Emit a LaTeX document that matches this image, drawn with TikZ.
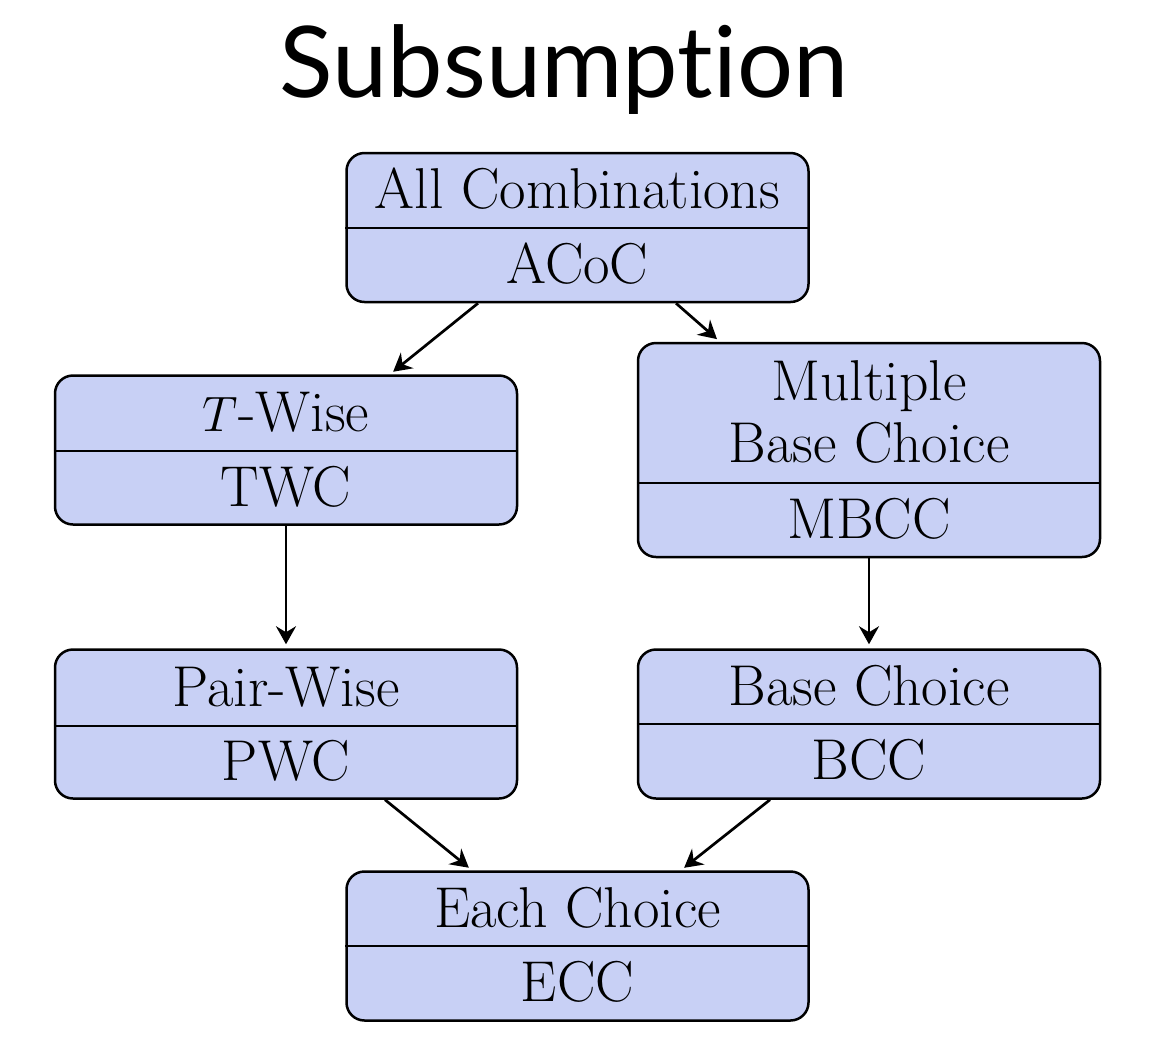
\documentclass[tikz,border=0pt]{standalone}
\usepackage{fontspec}
\newfontfamily\titlefont[Ligatures=NoCommon]{Lato}
\usetikzlibrary{calc,arrows.meta}
\definecolor{boxfill}{RGB}{200,208,245}
\begin{document}
\begin{tikzpicture}[x=0.5pt,y=-0.5pt,
  box/.style={draw, line width=1.25pt, rounded corners=9pt, fill=boxfill, minimum width=231pt, inner sep=0pt},
  lbl/.style={anchor=base, inner sep=0pt, font=\fontsize{28.8}{34}\selectfont},
  divider/.style={line width=1.25pt},
  arr/.style={-{Stealth[length=9pt,width=10pt,inset=3pt]}, line width=1.35pt, shorten >=2pt}]
\useasboundingbox (0,0) rectangle (1158,1046);
\node[anchor=base, inner sep=0pt, font=\titlefont\fontsize{49.5}{58}\selectfont] (title) at (564,97) {Subsumption};
% boxes
\node[box, minimum height=74.5pt] (acoc) at (577.5,227.5) {};
\node[box, minimum height=74.5pt] (twise) at (286,450) {};
\node[box, minimum height=107pt] (mbcc) at (869,450) {};
\node[box, minimum height=74.5pt] (pwise) at (286,724) {};
\node[box, minimum height=74.5pt] (bcc) at (869,724) {};
\node[box, minimum height=74.5pt] (ecc) at (577.5,946) {};
% dividers
\draw[divider] (acoc.west |- 0,228) -- (acoc.east |- 0,228);
\draw[divider] (twise.west |- 0,451) -- (twise.east |- 0,451);
\draw[divider] (mbcc.west |- 0,483) -- (mbcc.east |- 0,483);
\draw[divider] (pwise.west |- 0,726) -- (pwise.east |- 0,726);
\draw[divider] (bcc.west |- 0,724) -- (bcc.east |- 0,724);
\draw[divider] (ecc.west |- 0,946) -- (ecc.east |- 0,946);
% labels
\node[lbl] (acoc1) at (577.5,208.5) {All Combinations};
\node[lbl] (acoc2) at (577.5,283) {ACoC};
\node[lbl] (twise1) at (286,431) {$T$-Wise};
\node[lbl] (twise2) at (286,506) {TWC};
\node[lbl] (mbcc1) at (869,400) {Multiple};
\node[lbl] (mbcc2) at (869,462) {Base Choice};
\node[lbl] (mbcc3) at (869,538) {MBCC};
\node[lbl] (pwise1) at (286,706) {Pair-Wise};
\node[lbl] (pwise2) at (286,780) {PWC};
\node[lbl] (bcc1) at (869,705) {Base Choice};
\node[lbl] (bcc2) at (869,779) {BCC};
\node[lbl] (ecc1) at (577.5,927) {Each Choice};
\node[lbl] (ecc2) at (577.5,1001) {ECC};
% arrows
\draw[arr] ($(acoc.south)+(-99.5,0)$) -- ($(twise.north)+(104,0)$);
\draw[arr] ($(acoc.south)+(98.5,0)$) -- ($(mbcc.north)+(-149,0)$);
\draw[arr] (twise.south) -- (pwise.north);
\draw[arr] (mbcc.south) -- (bcc.north);
\draw[arr] ($(pwise.south)+(99,0)$) -- ($(ecc.north)+(-105.5,0)$);
\draw[arr] ($(bcc.south)+(-99,0)$) -- ($(ecc.north)+(103.5,0)$);
\end{tikzpicture}
\end{document}
